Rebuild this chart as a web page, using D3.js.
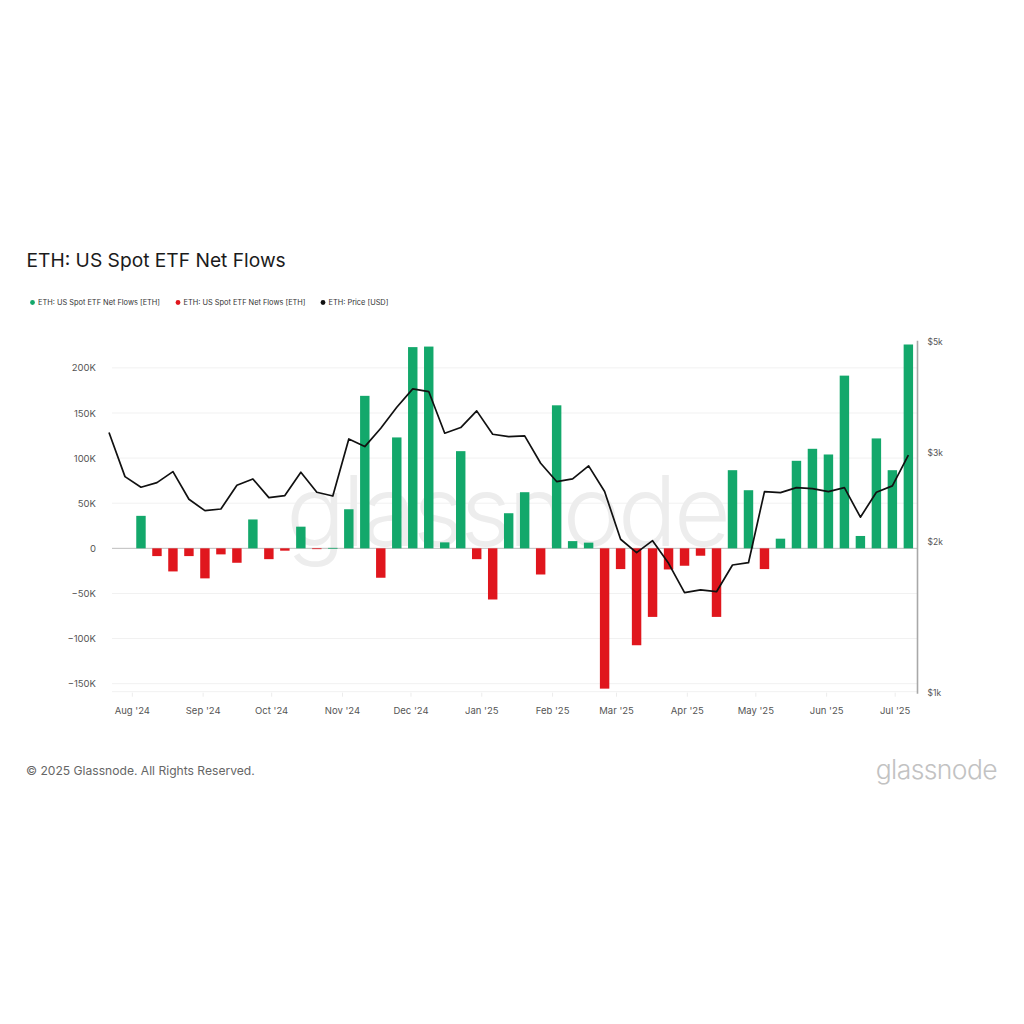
<!DOCTYPE html>
<html>
<head>
<meta charset="utf-8">
<script src="https://cdn.jsdelivr.net/npm/d3@7"></script>
<style>
  html, body { margin: 0; padding: 0; background: #fff; }
  svg { display: block; font-family: Inter, "Noto Sans", sans-serif; }
</style>
</head>
<body>
<svg id="chart" width="1024" height="1024"></svg>
<script>
// weekly points (Monday of each week)
const weeks = [
  "2024-07-22", "2024-07-29", "2024-08-05", "2024-08-12", "2024-08-19", "2024-08-26",
  "2024-09-02", "2024-09-09", "2024-09-16", "2024-09-23", "2024-09-30", "2024-10-07",
  "2024-10-14", "2024-10-21", "2024-10-28", "2024-11-04", "2024-11-11", "2024-11-18",
  "2024-11-25", "2024-12-02", "2024-12-09", "2024-12-16", "2024-12-23", "2024-12-30",
  "2025-01-06", "2025-01-13", "2025-01-20", "2025-01-27", "2025-02-03", "2025-02-10",
  "2025-02-17", "2025-02-24", "2025-03-03", "2025-03-10", "2025-03-17", "2025-03-24",
  "2025-03-31", "2025-04-07", "2025-04-14", "2025-04-21", "2025-04-28", "2025-05-05",
  "2025-05-12", "2025-05-19", "2025-05-26", "2025-06-02", "2025-06-09", "2025-06-16",
  "2025-06-23", "2025-06-30", "2025-07-07"
];

// net flows in ETH (thousands), null = no bar
const netFlowsK = [
  null, null, 36, -8.6, -25.6, -8.6,
  -33.3, -6.7, -16, 32, -12, -2.6,
  24, -0.6, 0.5, 43.3, 169, -32.6,
  122.9, 223, 223.6, 6.6, 107.7, -12,
  -56.7, 38.9, 62.2, -29, 158.5, 8,
  6.3, -155.5, -23, -107.4, -76, -23.4,
  -19.3, -8.2, -76, 86.6, 64.4, -23,
  10.7, 97, 110.3, 104, 191.4, 13.7,
  121.8, 86.6, 225.9
];

// ETH price in USD
const priceUsd = [
  3296, 2693, 2565, 2620, 2756, 2428,
  2304, 2322, 2589, 2665, 2446, 2469,
  2748, 2507, 2464, 3201, 3091, 3363,
  3703, 4027, 3978, 3287, 3373, 3641,
  3271, 3236, 3246, 2864, 2633, 2665,
  2829, 2515, 2021, 1901, 2008, 1810,
  1582, 1602, 1589, 1796, 1815, 2515,
  2503, 2561, 2549, 2515, 2561, 2236,
  2507, 2581, 2971
];

const flowTicks = [-150000, -100000, -50000, 0, 50000, 100000, 150000, 200000];
const priceTicks = [1000, 2000, 3000, 5000];
const monthTicks = [
  "2024-08-01", "2024-09-01", "2024-10-01", "2024-11-01", "2024-12-01", "2025-01-01",
  "2025-02-01", "2025-03-01", "2025-04-01", "2025-05-01", "2025-06-01", "2025-07-01"
];

const legendItems = [
  { label: "ETH: US Spot ETF Net Flows [ETH]", color: "#13a86b" },
  { label: "ETH: US Spot ETF Net Flows [ETH]", color: "#e0161d" },
  { label: "ETH: Price [USD]", color: "#111" }
];

const GREEN = "#13a86b";
const RED = "#e0161d";

const parseDay = d3.utcParse("%Y-%m-%d");
const rows = weeks.map((w, i) => ({
  date: parseDay(w),
  flow: netFlowsK[i] === null ? null : netFlowsK[i] * 1000,
  price: priceUsd[i]
}));

const svg = d3.select("#chart");
const plot = { left: 109, right: 917.5, top: 341.7, bottom: 692.7 };

svg.append("rect").attr("width", 1024).attr("height", 1024).attr("fill", "#fff");

const x = d3.scaleUtc()
  .domain([parseDay("2024-07-22"), parseDay("2025-07-11")])
  .range([plot.left, plot.right]);

const yFlow = d3.scaleLinear()
  .domain([-160000, 229000])
  .range([plot.bottom, plot.top]);

const yPrice = d3.scaleLog()
  .domain([1000, 5000])
  .range([plot.bottom, plot.top]);

// title + legend
svg.append("text")
  .attr("x", 26.5).attr("y", 267)
  .attr("font-size", 19.2).attr("fill", "#1b1b1b")
  .text("ETH: US Spot ETF Net Flows");

const legendX = [32.5, 178, 323];
const legend = svg.append("g");
legendItems.forEach((item, i) => {
  const g = legend.append("g").attr("transform", `translate(${legendX[i]}, 302.5)`);
  g.append("circle").attr("r", 2.4).attr("fill", item.color);
  g.append("text").attr("x", 5.5).attr("y", 2.5)
    .attr("font-size", 7.4).attr("fill", "#333").text(item.label);
});

// gridlines
svg.append("g")
  .selectAll("line")
  .data(flowTicks.filter((t) => t !== 0))
  .join("line")
  .attr("x1", plot.left + 3).attr("x2", plot.right)
  .attr("y1", (d) => yFlow(d)).attr("y2", (d) => yFlow(d))
  .attr("stroke", "#f1f1f1").attr("stroke-width", 1);

svg.append("line")
  .attr("x1", plot.left + 3).attr("x2", plot.right)
  .attr("y1", plot.bottom - 1).attr("y2", plot.bottom - 1)
  .attr("stroke", "#f1f1f1");

// watermark
svg.append("text")
  .attr("x", 507).attr("y", 546)
  .attr("text-anchor", "middle")
  .attr("font-size", 98).attr("font-weight", 300)
  .attr("letter-spacing", -3)
  .attr("fill", "#ededed")
  .text("glassnode");

// zero line
svg.append("line")
  .attr("x1", plot.left + 3).attr("x2", plot.right)
  .attr("y1", yFlow(0)).attr("y2", yFlow(0))
  .attr("stroke", "#bdbdbd").attr("stroke-width", 1);

// bars
const week = 7 * 24 * 3600 * 1000;
const barW = (x(new Date(week)) - x(new Date(0))) * 0.59;

svg.append("g")
  .selectAll("rect")
  .data(rows.filter((d) => d.flow !== null))
  .join("rect")
  .attr("x", (d) => x(d.date) - barW / 2)
  .attr("width", barW)
  .attr("y", (d) => Math.min(yFlow(d.flow), yFlow(0)))
  .attr("height", (d) => Math.max(0.8, Math.abs(yFlow(d.flow) - yFlow(0))))
  .attr("fill", (d) => (d.flow >= 0 ? GREEN : RED));

// price line
const line = d3.line()
  .x((d) => x(d.date))
  .y((d) => yPrice(d.price));

svg.append("path")
  .datum(rows)
  .attr("d", line)
  .attr("fill", "none")
  .attr("stroke", "#111")
  .attr("stroke-width", 1.7)
  .attr("stroke-linejoin", "round");

// left axis
const leftAxis = svg.append("g")
  .attr("transform", `translate(${plot.left - 13}, 0)`)
  .call(d3.axisLeft(yFlow).tickValues(flowTicks).tickSize(0).tickPadding(0)
    .tickFormat((d) => (d === 0 ? "0" : d3.format("d")(d / 1000) + "K")));
leftAxis.select(".domain").remove();
leftAxis.selectAll("text")
  .attr("font-family", "Inter, sans-serif")
  .attr("font-size", 9.5).attr("fill", "#555");

// right axis
svg.append("line")
  .attr("x1", plot.right).attr("x2", plot.right)
  .attr("y1", plot.top - 1).attr("y2", plot.bottom + 1)
  .attr("stroke", "#a8a8a8").attr("stroke-width", 1.6);

const rightAxis = svg.append("g")
  .attr("transform", `translate(${plot.right + 10}, 0)`)
  .call(d3.axisRight(yPrice).tickValues(priceTicks).tickSize(0).tickPadding(0)
    .tickFormat((d) => "$" + d / 1000 + "k"));
rightAxis.select(".domain").remove();
rightAxis.selectAll("text")
  .attr("font-family", "Inter, sans-serif")
  .attr("font-size", 8.5).attr("fill", "#555");

// bottom axis
const bottomAxis = svg.append("g")
  .attr("transform", `translate(0, ${plot.bottom})`)
  .call(d3.axisBottom(x).tickValues(monthTicks.map(parseDay)).tickSize(4).tickPadding(11)
    .tickFormat(d3.utcFormat("%b '%y")));
bottomAxis.select(".domain").remove();
bottomAxis.selectAll("line").attr("stroke", "#ececec");
bottomAxis.selectAll("text")
  .attr("font-family", "Inter, sans-serif")
  .attr("font-size", 9.5).attr("fill", "#555");

// footer
svg.append("text")
  .attr("x", 26).attr("y", 774.5)
  .attr("font-size", 12.1).attr("fill", "#666")
  .text("© 2025 Glassnode. All Rights Reserved.");

svg.append("text")
  .attr("x", 997).attr("y", 779)
  .attr("text-anchor", "end")
  .attr("font-size", 26.5).attr("font-weight", 300)
  .attr("letter-spacing", -0.6)
  .attr("fill", "#c2c2c2")
  .text("glassnode");
</script>
</body>
</html>
